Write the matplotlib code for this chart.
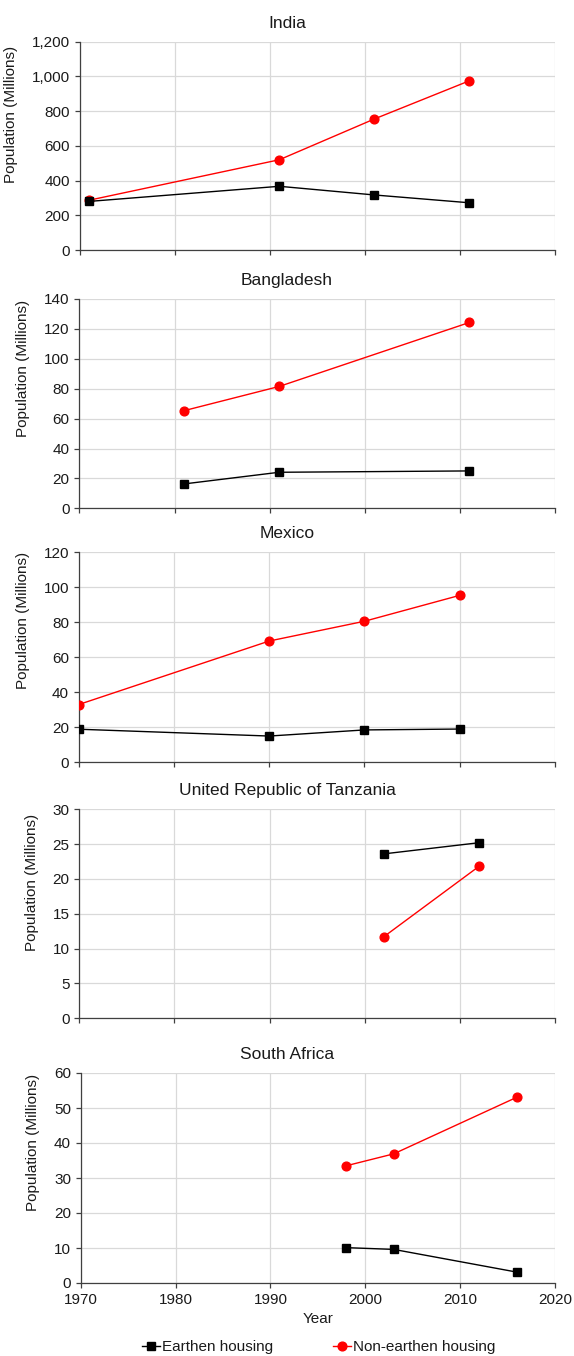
import matplotlib
matplotlib.use("Agg")
import matplotlib.pyplot as plt
from matplotlib.ticker import FuncFormatter

plt.rcParams['font.family'] = ['Liberation Sans', 'DejaVu Sans']

# data (millions)
countries = ['India', 'Bangladesh', 'Mexico', 'United Republic of Tanzania', 'South Africa']

india_years = [1971, 1991, 2001, 2011]
india_earthen = [280, 367, 317, 272]
india_nonearthen = [287, 520, 755, 975]

bangladesh_years = [1981, 1991, 2011]
bangladesh_earthen = [16.3, 24.1, 25.0]
bangladesh_nonearthen = [65.3, 81.5, 124.3]

mexico_years = [1970, 1990, 2000, 2010]
mexico_earthen = [18.9, 15.0, 18.5, 19.0]
mexico_nonearthen = [33.0, 69.3, 80.6, 95.4]

tanzania_years = [2002, 2012]
tanzania_earthen = [23.6, 25.2]
tanzania_nonearthen = [11.7, 21.8]

safrica_years = [1998, 2003, 2016]
safrica_earthen = [10.1, 9.6, 3.1]
safrica_nonearthen = [33.5, 36.9, 53.1]

y_max = [1200, 140, 120, 30, 60]
y_step = [200, 20, 20, 5, 10]

series = [
    (india_years, india_earthen, india_nonearthen),
    (bangladesh_years, bangladesh_earthen, bangladesh_nonearthen),
    (mexico_years, mexico_earthen, mexico_nonearthen),
    (tanzania_years, tanzania_earthen, tanzania_nonearthen),
    (safrica_years, safrica_earthen, safrica_nonearthen),
]

W, H = 574, 1356
fig = plt.figure(figsize=(W / 100, H / 100), dpi=100)

# axes boxes in pixels: (left, top, bottom), right edge shared
right = 555
boxes = [(79.8, 41.7, 250), (79.4, 299, 508.3), (78.7, 552.3, 762.3),
         (79.3, 809.3, 1018.3), (80.7, 1073, 1283)]
label_y = [0.65, 0.67, 0.675, 0.65, 0.67]
label_x = [18, 30, 30, 39, 40]

axis_col = '#404040'
grid_col = '#d9d9d9'
txt_col = '#1a1a1a'

for i, (name, (yrs, earth, nonearth)) in enumerate(zip(countries, series)):
    left, top, bottom = boxes[i]
    w = right - left
    ax = fig.add_axes([left / W, 1 - bottom / H, w / W, (bottom - top) / H])

    ax.plot(yrs, nonearth, color='#ff0000', lw=1.0, marker='o', ms=6.3,
            label='Non-earthen housing', zorder=3)
    ax.plot(yrs, earth, color='black', lw=1.0, marker='s', ms=6.4,
            label='Earthen housing', zorder=3)

    ax.set_xlim(1970, 2020)
    ax.set_ylim(0, y_max[i])
    ax.set_xticks(range(1970, 2021, 10))
    ax.set_yticks(range(0, y_max[i] + 1, y_step[i]))
    if i == 0:
        ax.yaxis.set_major_formatter(FuncFormatter(lambda v, p: '{:,.0f}'.format(v)))

    ax.grid(True, color=grid_col, lw=0.9)
    ax.set_axisbelow(True)
    for s in ['top', 'right']:
        ax.spines[s].set_visible(False)
    for s in ['left', 'bottom']:
        ax.spines[s].set_color(axis_col)
        ax.spines[s].set_linewidth(0.9)
    ax.tick_params(colors=axis_col, labelcolor=txt_col, labelsize=11,
                   length=3.5, width=0.9)

    if i < 4:
        ax.tick_params(axis='x', labelbottom=False)
    else:
        ax.set_xlabel('Year', fontsize=11, color=txt_col, labelpad=4)

    # titles sit centred on the figure rather than on the plot area
    ax.set_title(name, fontsize=12.5, color=txt_col, pad=10, x=(W / 2 - left) / w)
    ax.set_ylabel('Population (Millions)', fontsize=11, color=txt_col)
    ax.yaxis.set_label_coords((label_x[i] - left) / w, label_y[i])

handles, labels = ax.get_legend_handles_labels()
fig.legend(handles[::-1], labels[::-1], loc='center',
           bbox_to_anchor=(318.5 / W, 1 - 1347 / H),
           ncol=2, frameon=False, fontsize=11, handlelength=1.2, handletextpad=0.1,
           columnspacing=3.9, labelcolor=txt_col, borderpad=0)

fig.savefig('out.png', dpi=100)
